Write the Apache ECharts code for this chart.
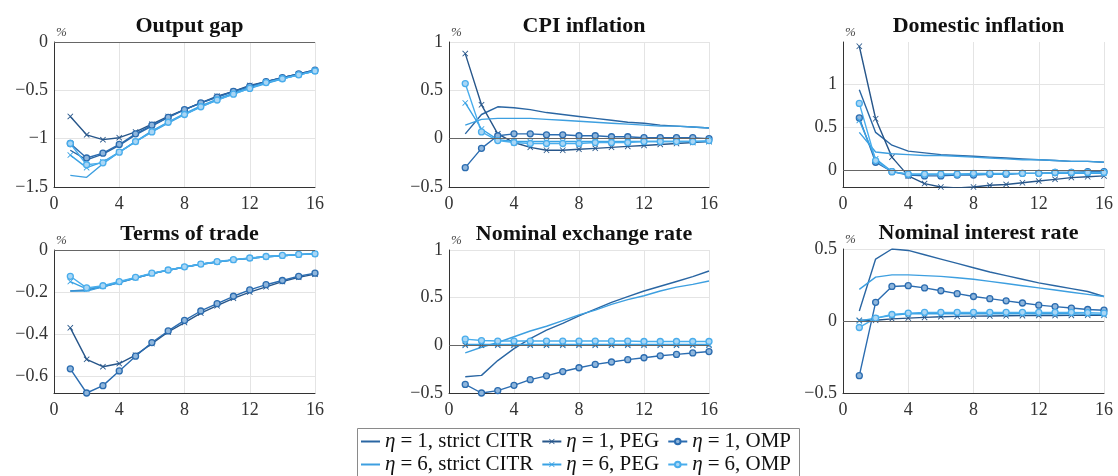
<!DOCTYPE html>
<html>
<head>
<meta charset="utf-8">
<script src="https://cdn.jsdelivr.net/npm/echarts@6/dist/echarts.min.js"></script>
<style>
  html, body { margin: 0; padding: 0; background: #fff; }
  #chart { width: 1118px; height: 476px; }
</style>
</head>
<body>
<div id="chart"></div>
<script>
// Impulse responses, quarters 1..16
const quarters = [1, 2, 3, 4, 5, 6, 7, 8, 9, 10, 11, 12, 13, 14, 15, 16];

const seriesNames = [
  'η = 1, strict CITR', 'η = 1, PEG', 'η = 1, OMP',
  'η = 6, strict CITR', 'η = 6, PEG', 'η = 6, OMP'
];
const panelTitles = ['Output gap', 'CPI inflation', 'Domestic inflation',
  'Terms of trade', 'Nominal exchange rate', 'Nominal interest rate'];

// Output gap
const gapCitr1 = [-1.12, -1.22, -1.16, -1.07, -0.96, -0.87, -0.78, -0.70, -0.63, -0.57, -0.51, -0.46, -0.41, -0.37, -0.33, -0.29];
const gapPeg1  = [-0.77, -0.96, -1.01, -0.99, -0.93, -0.85, -0.77, -0.70, -0.63, -0.56, -0.51, -0.45, -0.41, -0.37, -0.33, -0.30];
const gapOmp1  = [-1.05, -1.20, -1.15, -1.06, -0.95, -0.86, -0.78, -0.70, -0.63, -0.57, -0.51, -0.46, -0.41, -0.37, -0.33, -0.29];
const gapCitr6 = [-1.38, -1.40, -1.26, -1.14, -1.03, -0.93, -0.84, -0.75, -0.67, -0.60, -0.54, -0.48, -0.43, -0.38, -0.34, -0.30];
const gapPeg6  = [-1.17, -1.30, -1.24, -1.14, -1.03, -0.92, -0.83, -0.74, -0.66, -0.59, -0.53, -0.47, -0.42, -0.38, -0.34, -0.30];
const gapOmp6  = [-1.05, -1.27, -1.25, -1.14, -1.03, -0.93, -0.83, -0.75, -0.67, -0.60, -0.54, -0.48, -0.42, -0.38, -0.34, -0.30];

// CPI inflation
const cpiCitr1 = [0.05, 0.25, 0.33, 0.32, 0.30, 0.27, 0.25, 0.23, 0.21, 0.19, 0.17, 0.16, 0.14, 0.13, 0.12, 0.11];
const cpiPeg1  = [0.88, 0.35, 0.05, -0.04, -0.09, -0.12, -0.12, -0.11, -0.10, -0.09, -0.08, -0.07, -0.06, -0.05, -0.04, -0.03];
const cpiOmp1  = [-0.30, -0.10, 0.03, 0.05, 0.05, 0.04, 0.04, 0.03, 0.03, 0.02, 0.02, 0.01, 0.01, 0.01, 0.01, 0.00];
const cpiCitr6 = [0.14, 0.20, 0.21, 0.21, 0.21, 0.20, 0.19, 0.18, 0.17, 0.16, 0.15, 0.14, 0.13, 0.13, 0.12, 0.11];
const cpiPeg6  = [0.37, 0.10, -0.01, -0.03, -0.03, -0.03, -0.03, -0.03, -0.03, -0.03, -0.03, -0.03, -0.03, -0.03, -0.03, -0.03];
const cpiOmp6  = [0.57, 0.07, -0.02, -0.04, -0.05, -0.05, -0.05, -0.05, -0.04, -0.04, -0.04, -0.03, -0.03, -0.03, -0.03, -0.02];

// Domestic inflation
const domCitr1 = [0.94, 0.44, 0.29, 0.22, 0.20, 0.18, 0.17, 0.16, 0.15, 0.14, 0.13, 0.12, 0.11, 0.10, 0.10, 0.09];
const domPeg1  = [1.45, 0.60, 0.15, -0.07, -0.16, -0.20, -0.21, -0.20, -0.18, -0.17, -0.15, -0.13, -0.11, -0.09, -0.08, -0.07];
const domOmp1  = [0.61, 0.09, -0.02, -0.06, -0.07, -0.07, -0.06, -0.06, -0.05, -0.05, -0.04, -0.04, -0.03, -0.03, -0.02, -0.02];
const domCitr6 = [0.44, 0.21, 0.19, 0.18, 0.17, 0.17, 0.16, 0.15, 0.14, 0.13, 0.12, 0.12, 0.11, 0.10, 0.10, 0.09];
const domPeg6  = [0.58, 0.13, -0.02, -0.05, -0.05, -0.05, -0.05, -0.05, -0.05, -0.05, -0.04, -0.04, -0.04, -0.04, -0.04, -0.04];
const domOmp6  = [0.78, 0.11, -0.02, -0.05, -0.05, -0.05, -0.05, -0.04, -0.04, -0.04, -0.04, -0.04, -0.03, -0.03, -0.03, -0.03];

// Terms of trade
const totCitr1 = [-0.195, -0.19, -0.175, -0.155, -0.133, -0.113, -0.096, -0.081, -0.068, -0.057, -0.047, -0.039, -0.032, -0.027, -0.022, -0.018];
const totPeg1  = [-0.37, -0.52, -0.555, -0.54, -0.50, -0.445, -0.39, -0.345, -0.30, -0.265, -0.23, -0.20, -0.175, -0.15, -0.13, -0.115];
const totOmp1  = [-0.565, -0.68, -0.645, -0.575, -0.505, -0.44, -0.385, -0.335, -0.29, -0.255, -0.22, -0.19, -0.165, -0.145, -0.125, -0.11];
const totCitr6 = [-0.195, -0.195, -0.175, -0.155, -0.133, -0.113, -0.096, -0.081, -0.068, -0.057, -0.047, -0.039, -0.032, -0.027, -0.022, -0.018];
const totPeg6  = [-0.15, -0.185, -0.172, -0.153, -0.132, -0.112, -0.096, -0.081, -0.068, -0.057, -0.047, -0.039, -0.032, -0.027, -0.022, -0.018];
const totOmp6  = [-0.125, -0.18, -0.17, -0.15, -0.13, -0.11, -0.095, -0.08, -0.067, -0.055, -0.046, -0.038, -0.031, -0.026, -0.021, -0.018];

// Nominal exchange rate
const nerCitr1 = [-0.33, -0.315, -0.16, -0.035, 0.07, 0.16, 0.23, 0.31, 0.38, 0.45, 0.51, 0.57, 0.62, 0.67, 0.72, 0.78];
const nerPeg1  = [0, 0, 0, 0, 0, 0, 0, 0, 0, 0, 0, 0, 0, 0, 0, 0];
const nerOmp1  = [-0.41, -0.50, -0.475, -0.42, -0.36, -0.32, -0.275, -0.235, -0.20, -0.175, -0.15, -0.13, -0.11, -0.095, -0.08, -0.065];
const nerCitr6 = [-0.08, -0.02, 0.03, 0.09, 0.15, 0.20, 0.26, 0.32, 0.37, 0.43, 0.48, 0.52, 0.57, 0.61, 0.64, 0.675];
const nerPeg6  = [0.01, 0.01, 0.01, 0.01, 0.01, 0.01, 0.01, 0.01, 0.01, 0.01, 0.01, 0.01, 0.01, 0.01, 0.01, 0.01];
const nerOmp6  = [0.065, 0.05, 0.045, 0.045, 0.045, 0.045, 0.045, 0.045, 0.045, 0.045, 0.045, 0.04, 0.04, 0.04, 0.04, 0.04];

// Nominal interest rate
const nirCitr1 = [0.07, 0.43, 0.50, 0.49, 0.46, 0.43, 0.40, 0.37, 0.34, 0.315, 0.29, 0.265, 0.245, 0.225, 0.205, 0.17];
const nirPeg1  = [0.005, 0.005, 0.015, 0.02, 0.025, 0.03, 0.032, 0.034, 0.035, 0.036, 0.037, 0.038, 0.038, 0.039, 0.04, 0.04];
const nirOmp1  = [-0.38, 0.13, 0.24, 0.245, 0.23, 0.21, 0.19, 0.17, 0.155, 0.14, 0.125, 0.11, 0.10, 0.09, 0.08, 0.075];
const nirCitr6 = [0.22, 0.305, 0.32, 0.32, 0.315, 0.31, 0.30, 0.29, 0.275, 0.26, 0.245, 0.23, 0.215, 0.20, 0.185, 0.17];
const nirPeg6  = [0.0, 0.02, 0.04, 0.05, 0.05, 0.05, 0.05, 0.05, 0.05, 0.05, 0.05, 0.05, 0.05, 0.05, 0.048, 0.045];
const nirOmp6  = [-0.045, 0.02, 0.045, 0.055, 0.06, 0.06, 0.06, 0.06, 0.06, 0.06, 0.06, 0.06, 0.06, 0.06, 0.058, 0.055];

const panelData = [
  [gapCitr1, gapPeg1, gapOmp1, gapCitr6, gapPeg6, gapOmp6],
  [cpiCitr1, cpiPeg1, cpiOmp1, cpiCitr6, cpiPeg6, cpiOmp6],
  [domCitr1, domPeg1, domOmp1, domCitr6, domPeg6, domOmp6],
  [totCitr1, totPeg1, totOmp1, totCitr6, totPeg6, totOmp6],
  [nerCitr1, nerPeg1, nerOmp1, nerCitr6, nerPeg6, nerOmp6],
  [nirCitr1, nirPeg1, nirOmp1, nirCitr6, nirPeg6, nirOmp6]
];

// y-axis ranges and labelled ticks per panel
const yMins = [-1.5, -0.5, -0.2, -0.68, -0.5, -0.5];
const yMaxs = [0, 1, 1.5, 0, 1, 0.5];
const yTicks = [
  [-1.5, -1, -0.5, 0],
  [-0.5, 0, 0.5, 1],
  [0, 0.5, 1],
  [-0.6, -0.4, -0.2, 0],
  [-0.5, 0, 0.5, 1],
  [-0.5, 0, 0.5]
];
const xTicks = [0, 4, 8, 12, 16];

const colors = ['#2a66a3', '#27568a', '#2b6cb0', '#3d9fe0', '#39a2e4', '#49adec'];
const fills = ['#2a66a3', '#27568a', '#8fb6dc', '#3d9fe0', '#39a2e4', '#a9d6f5'];
const crossPath = 'path://M0,1L1,0L5,4L9,0L10,1L6,5L10,9L9,10L5,6L1,10L0,9L4,5Z';
const symbols = ['none', crossPath, 'circle', 'none', crossPath, 'circle'];

const SERIF = 'Liberation Serif';
const grids = [
  { left: 54, top: 42, width: 261, height: 145 },
  { left: 449, top: 42, width: 260, height: 145 },
  { left: 843, top: 42, width: 261, height: 145 },
  { left: 54, top: 250, width: 261, height: 143 },
  { left: 449, top: 250, width: 260, height: 143 },
  { left: 843, top: 249, width: 261, height: 144 }
];

const fmt = v => String(v).replace('-', '\u2212');

const xAxes = grids.map((g, i) => ({
  type: 'value', gridIndex: i, min: 0, max: 16,
  axisLine: { onZero: false, lineStyle: { color: '#333', width: 1 } },
  axisTick: { show: false, customValues: xTicks },
  axisLabel: { customValues: xTicks, color: '#333', fontFamily: SERIF, fontSize: 18, margin: 8 },
  splitLine: { show: true, lineStyle: { color: '#e4e4e4', width: 1 } }
}));

const yAxes = grids.map((g, i) => ({
  type: 'value', gridIndex: i, min: yMins[i], max: yMaxs[i],
  name: '%', nameLocation: 'end', nameGap: 3,
  nameTextStyle: { fontFamily: SERIF, fontStyle: 'italic', fontSize: 13, color: '#444',
    align: 'left', verticalAlign: 'bottom', padding: [0, 0, 0, 2] },
  axisLine: { show: true, lineStyle: { color: '#333', width: 1 } },
  axisTick: { show: false, customValues: yTicks[i] },
  axisLabel: { customValues: yTicks[i], color: '#333', fontFamily: SERIF, fontSize: 18, margin: 6, formatter: fmt },
  splitLine: { show: true, lineStyle: { color: '#e4e4e4', width: 1 } }
}));

const titles = grids.map((g, i) => ({
  text: panelTitles[i],
  left: g.left + g.width / 2,
  top: g.top - 32,
  textAlign: 'center',
  textStyle: { fontFamily: SERIF, fontWeight: 'bold', fontSize: 22, color: '#111' }
}));

const series = [];
panelData.forEach((set, p) => {
  set.forEach((vals, s) => {
    const item = {
      name: seriesNames[s],
      type: 'line',
      xAxisIndex: p, yAxisIndex: p,
      data: quarters.map((q, k) => [q, vals[k]]),
      symbol: symbols[s],
      symbolSize: 6,
      showSymbol: symbols[s] !== 'none',
      lineStyle: { color: colors[s], width: 1.4 },
      itemStyle: { color: fills[s], borderColor: colors[s], borderWidth: s % 3 === 2 ? 1.3 : 0 },
      emphasis: { disabled: true },
      animation: false,
      z: 3
    };
    if (s === 0) {
      item.markLine = {
        silent: true, symbol: 'none', animation: false,
        label: { show: false },
        lineStyle: { color: '#666', width: 1, type: 'solid' },
        data: [{ yAxis: 0 }]
      };
    }
    series.push(item);
  });
});

// legend entries: plain lines carry no marker
const legendData = seriesNames.map((n, s) =>
  symbols[s] === 'none' ? { name: n, itemStyle: { opacity: 0 } } : { name: n });

// two legend rows, three entries each, inside one frame
const legendRow = (items, top) => ({
  data: items,
  left: 360, top: top,
  orient: 'horizontal',
  padding: 0,
  itemGap: 8,
  itemWidth: 19, itemHeight: 7,
  formatter: name => {
    const parts = name.split(' = ');
    return '{i|η}{e|=}' + parts[1];
  },
  textStyle: {
    fontFamily: SERIF, fontSize: 21, color: '#111',
    rich: {
      i: { fontFamily: SERIF, fontStyle: 'italic', fontSize: 21, color: '#111' },
      e: { fontFamily: SERIF, fontSize: 21, color: '#111', padding: [0, 5, 0, 5] }
    }
  }
});

const chart = echarts.init(document.getElementById('chart'), null, { renderer: 'canvas' });
chart.setOption({
  animation: false,
  backgroundColor: '#fff',
  title: titles,
  grid: grids,
  xAxis: xAxes,
  yAxis: yAxes,
  legend: [legendRow(legendData.slice(0, 3), 431), legendRow(legendData.slice(3, 6), 454)],
  graphic: [{
    type: 'rect', silent: true, z: 0,
    shape: { x: 357.5, y: 428.5, width: 442, height: 60 },
    style: { fill: 'none', stroke: '#8a8a8a', lineWidth: 1 }
  }],
  series: series
});
</script>
</body>
</html>
